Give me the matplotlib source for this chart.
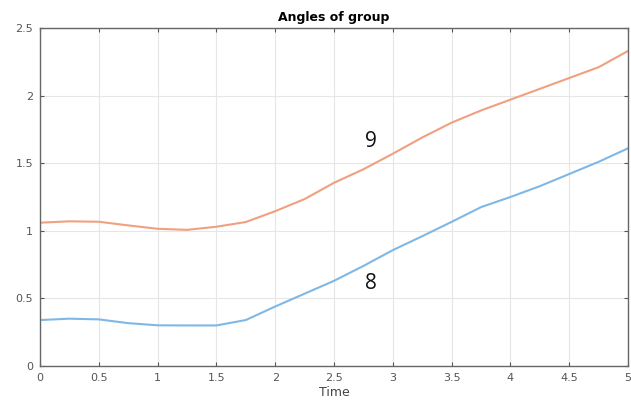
import matplotlib.pyplot as plt

# values
time = [0, 0.25, 0.5, 0.75, 1.0, 1.25, 1.5, 1.75, 2.0, 2.25, 2.5,
        2.75, 3.0, 3.25, 3.5, 3.75, 4.0, 4.25, 4.5, 4.75, 5.0]
group9 = [1.06, 1.07, 1.067, 1.04, 1.015, 1.007, 1.03, 1.065, 1.145, 1.235, 1.355,
          1.455, 1.57, 1.69, 1.80, 1.89, 1.97, 2.05, 2.13, 2.21, 2.33]
group8 = [0.34, 0.35, 0.345, 0.317, 0.301, 0.30, 0.30, 0.34, 0.44, 0.535, 0.63,
          0.74, 0.857, 0.96, 1.066, 1.175, 1.25, 1.33, 1.42, 1.51, 1.61]

labels = ["9", "8"]
label_x = [2.81, 2.81]
label_y = [1.66, 0.61]

xticks = [0, 0.5, 1, 1.5, 2, 2.5, 3, 3.5, 4, 4.5, 5]
xticklabels = ["0", "0.5", "1", "1.5", "2", "2.5", "3", "3.5", "4", "4.5", "5"]
yticks = [0, 0.5, 1, 1.5, 2, 2.5]
yticklabels = ["0", "0.5", "1", "1.5", "2", "2.5"]

fig = plt.figure(figsize=(6.31, 4.03), dpi=100)
ax = fig.add_axes([0.0634, 0.0918, 0.9318, 0.8387])

ax.plot(time, group9, color="#f0a080", linewidth=1.5)
ax.plot(time, group8, color="#7fb8e6", linewidth=1.5)

for txt, tx, ty in zip(labels, label_x, label_y):
    ax.text(tx, ty, txt, fontsize=15, family="Open Sans", color="#111111",
            ha="center", va="center")

ax.set_xlim(0, 5)
ax.set_ylim(0, 2.5)
ax.set_xticks(xticks)
ax.set_xticklabels(xticklabels)
ax.set_yticks(yticks)
ax.set_yticklabels(yticklabels)
ax.grid(True, color="#e6e6e6", linewidth=0.8)
ax.set_axisbelow(True)
ax.tick_params(direction="in", length=3, labelsize=8, colors="#555555",
               top=True, right=True, pad=5)
for sp in ax.spines.values():
    sp.set_color("#666666")
    sp.set_linewidth(1.0)

ax.set_title("Angles of group", fontsize=9, fontweight="bold", pad=5)
ax.set_xlabel("Time", fontsize=9, color="#444444", labelpad=2)

fig.savefig("out.png", dpi=100)
